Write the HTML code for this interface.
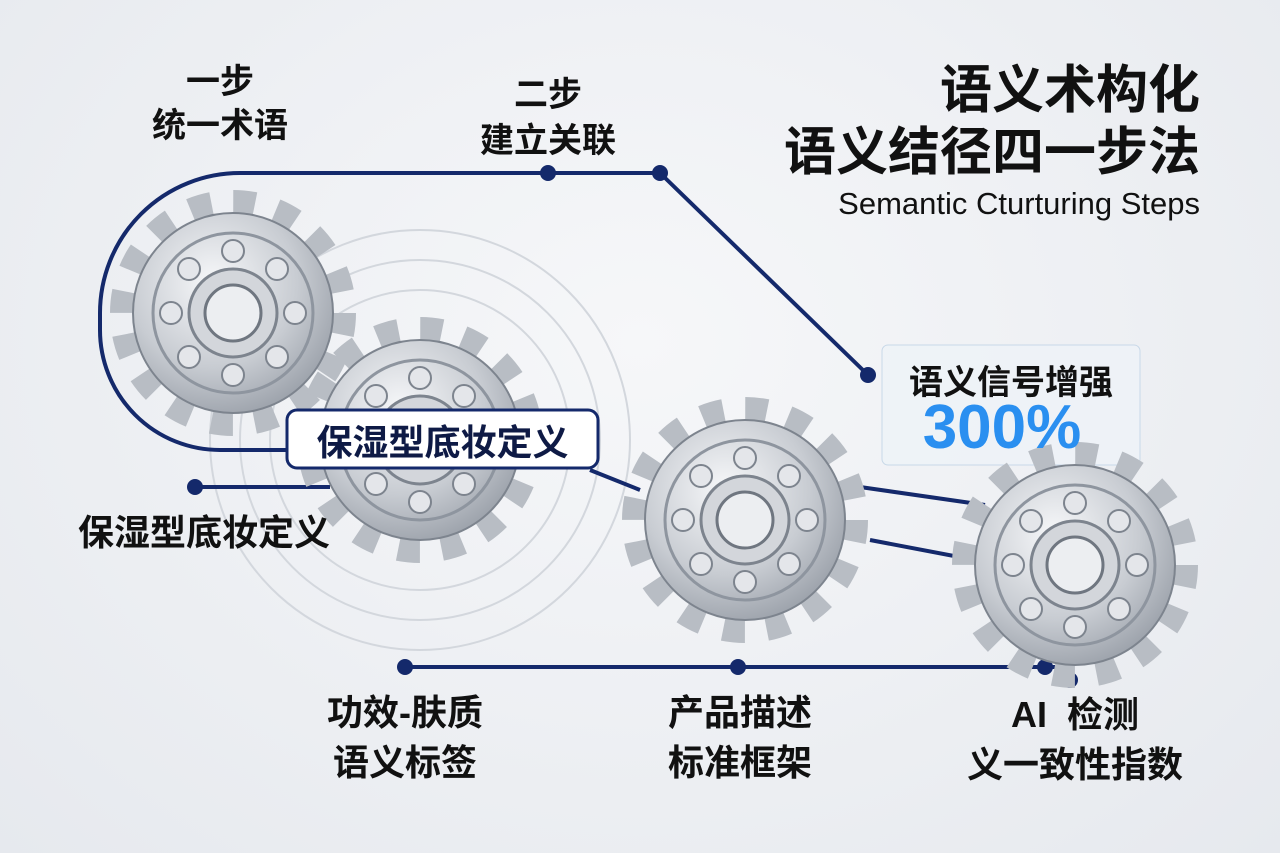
<!DOCTYPE html>
<html><head><meta charset="utf-8"><style>
body{margin:0;width:1280px;height:853px;overflow:hidden;background:radial-gradient(ellipse at 50% 40%,#f6f7f9,#e6e9ee);font-family:"Liberation Sans","Noto Sans CJK SC",sans-serif;}
.t{position:absolute;color:#111;font-weight:bold;text-align:center;white-space:nowrap}
</style></head><body>
<svg width="1280" height="853" style="position:absolute;left:0;top:0">
<defs>
<radialGradient id="m" cx="40%" cy="35%" r="70%"><stop offset="0" stop-color="#f7f8fa"/><stop offset=".6" stop-color="#c8ccd2"/><stop offset="1" stop-color="#9aa0a9"/></radialGradient>
<g id="gear">
<circle r="110" fill="none" stroke="#b8bdc4" stroke-width="26" stroke-dasharray="21.6 21.6"/>
<circle r="100" fill="url(#m)" stroke="#7d848e" stroke-width="2"/>
<circle r="80" fill="none" stroke="#8e959f" stroke-width="3"/>
<g fill="#e4e6ea" stroke="#7d848e" stroke-width="2">
<circle cx="0" cy="-62" r="11"/><circle cx="44" cy="-44" r="11"/><circle cx="62" cy="0" r="11"/><circle cx="44" cy="44" r="11"/><circle cx="0" cy="62" r="11"/><circle cx="-44" cy="44" r="11"/><circle cx="-62" cy="0" r="11"/><circle cx="-44" cy="-44" r="11"/>
</g>
<circle r="44" fill="#d3d6db" stroke="#7d848e" stroke-width="3"/>
<circle r="28" fill="#eceef1" stroke="#6f7680" stroke-width="3"/>
</g>
</defs>
<g fill="none" stroke="#d3d7dd" stroke-width="2"><circle cx="420" cy="440" r="150"/><circle cx="420" cy="440" r="180"/><circle cx="420" cy="440" r="210"/></g>
<g stroke="#14296b" stroke-width="4" fill="none">
<path d="M660 173 H240 A140 140 0 0 0 100 313 V330 A120 120 0 0 0 220 450 H300"/>
<path d="M660 173 L868 375"/>
<path d="M195 487 H330"/>
<path d="M590 470 L640 490"/>
<path d="M860 487 L985 505"/><path d="M870 540 L975 560"/>
<path d="M405 667 H1070"/>
</g>
<g fill="#14296b"><circle cx="548" cy="173" r="8"/><circle cx="660" cy="173" r="8"/><circle cx="868" cy="375" r="8"/><circle cx="195" cy="487" r="8"/><circle cx="405" cy="667" r="8"/><circle cx="738" cy="667" r="8"/><circle cx="1045" cy="667" r="8"/><circle cx="1070" cy="680" r="8"/></g>
<rect x="882" y="345" width="258" height="120" rx="6" fill="#eef3f8" fill-opacity=".8" stroke="#c8d8e8"/>
<use href="#gear" x="233" y="313"/>
<use href="#gear" x="420" y="440"/>
<use href="#gear" x="745" y="520"/>
<use href="#gear" x="1075" y="565"/>
<rect x="287" y="410" width="311" height="58" rx="10" fill="#fff" stroke="#14296b" stroke-width="3"/>
</svg>
<div class="t" style="left:150px;top:60px;width:140px;font-size:34px;line-height:44px">一步<br>统一术语</div>
<div class="t" style="left:468px;top:72px;width:160px;font-size:34px;line-height:46px">二步<br>建立关联</div>
<div class="t" style="right:80px;top:60px;font-size:52px;line-height:62px;text-align:right">语义术构化<br>语义结径四一步法</div>
<div class="t" style="right:80px;top:186px;font-size:31px;font-weight:normal">Semantic Cturturing Steps</div>
<div class="t" style="left:287px;top:414px;width:311px;font-size:36px;color:#0e1a45">保湿型底妆定义</div>
<div class="t" style="left:78px;top:504px;font-size:36px">保湿型底妆定义</div>
<div class="t" style="left:882px;top:355px;width:258px;font-size:34px">语义信号增强</div>
<div class="t" style="left:882px;top:392px;width:240px;font-size:62px;color:#2a8ff0">300%</div>
<div class="t" style="left:300px;top:688px;width:210px;font-size:36px;line-height:50px">功效-肤质<br>语义标签</div>
<div class="t" style="left:640px;top:688px;width:200px;font-size:36px;line-height:50px">产品描述<br>标准框架</div>
<div class="t" style="left:950px;top:690px;width:250px;font-size:36px;line-height:50px">AI&nbsp; 检测<br>义一致性指数</div>
</body></html>
